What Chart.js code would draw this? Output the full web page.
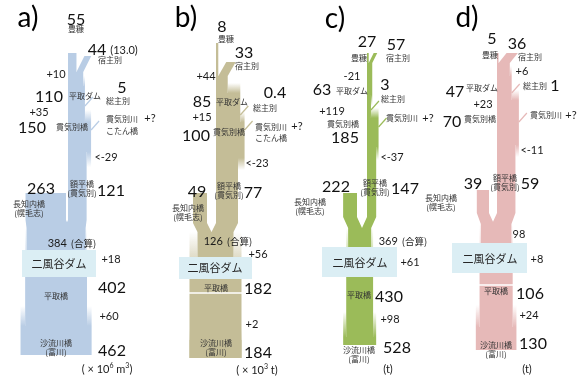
<!DOCTYPE html>
<html>
<head>
<meta charset="utf-8">
<script src="https://cdn.jsdelivr.net/npm/chart.js@4.4.0/dist/chart.umd.min.js"></script>
<style>
  html, body { margin: 0; padding: 0; background: #fff; overflow: hidden; }
  canvas { display: block; }
</style>
</head>
<body>
<canvas id="c" width="585" height="389"></canvas>
<script>
// ---- annual loads along the Saru / Nukabira river system (a: water, b: SS, c, d: nutrients) ----
const panelLetters   = ['a)', 'b)', 'c)', 'd)'];
const toyonuka       = [55, 8, 27, 5];          // 豊糠
const shukushubetsu  = [44, 33, 57, 36];        // 宿主別
const shukuNote      = ['(13.0)', '', '', ''];
const biratoriDam    = [110, 85, 63, 47];       // 平取ダム
const soshubetsu     = [5, 0.4, 3, 1];          // 総主別
const nukibetsuBr    = [150, 100, 185, 70];     // 貫気別橋
const nukabiraBr     = [121, 77, 147, 59];      // 額平橋（貫気別）
const osachinaiBr    = [263, 49, 222, 39];      // 長知内橋（幌毛志）
const combined       = [384, 126, 369, 98];     // 合算
const biratoriBr     = [402, 182, 430, 106];    // 平取橋
const saruBr         = [462, 184, 528, 130];    // 沙流川橋（富川）
const damInflow      = [10, 44, -21, 6];
const nukibetsuIn    = [35, 15, 119, 23];
const nukabiraLoss   = [-29, -23, -37, -11];
const nibutaniGain   = [18, 56, 61, 8];
const lowerGain      = [60, 2, 98, 24];
const combinedTag    = ['(合算)', '(合算)', '(合算)', ''];
const unitParts = [
  [['( × 10', 0], ['6', 1], [' m', 0], ['3', 1], [')', 0]],
  [['( × 10', 0], ['3', 1], [' t)', 0]],
  [['(t)', 0]],
  [['(t)', 0]]
];

// ---- drawing layout (page units) ----
const colors = ['#b9cde5', '#c4bd97', '#9bbb59', '#e6b9b8'];
const boxColor = '#dbeef4';
const geo = [
  { L: 68,  k: 1 / 6.5, gap: 2,  ySrc: 53, tribTop: 56, tribDx: 8, yJoin: 72, z1: [76, 86],  z2: [110, 122], z3: [152, 167], soY: 106, nkY: 130, brTop: 193, brBot: 220, apex: 228, box: [22, 250, 74, 27],  hiraLine: null, z4: [306, 326], bottom: 355 },
  { L: 216, k: 1 / 3.5, gap: 9,  ySrc: 43, tribTop: 62, tribDx: 8, yJoin: 76, z1: [83, 93],  z2: [112, 122], z3: [158, 170], soY: 115, nkY: 130, brTop: 193, brBot: 223, apex: 232, box: [179, 257, 73, 22], hiraLine: 293,  z4: [328, 340], bottom: 358 },
  { L: 367, k: 1 / 16,  gap: 10, ySrc: 53, tribTop: 53, tribDx: 5, yJoin: 63, z1: [95, 106], z2: [108, 118], z3: [147, 160], soY: 110, nkY: 127, brTop: 193, brBot: 217, apex: 228, box: [322, 247, 75, 30], hiraLine: null, z4: [312, 337], bottom: 345 },
  { L: 497, k: 1 / 3.2, gap: 8,  ySrc: 53, tribTop: 53, tribDx: 8, yJoin: 63, z1: [66, 76],  z2: [90, 100],  z3: [145, 157], soY: 93,  nkY: 122, brTop: 190, brBot: 213, apex: 224, box: [452, 243, 75, 30], hiraLine: 285,  z4: [305, 327], bottom: 350 }
];

// label anchors (centre x, centre y) per panel
const pos = {
  letter:   [[28, 17], [186, 17], [335, 18], [467, 17]],
  srcNum:   [[76, 19], [222, 26], [367, 41], [492, 38]],
  srcName:  [[76, 29], [226, 39], [359, 58], [490, 55]],
  tribNum:  [[97, 49], [244, 52], [396, 44], [517, 43]],
  tribNote: [[124, 50], null, null, null],
  tribName: [[110, 60], [247, 66], [398, 58], [530, 57]],
  gain1:    [[56, 74], [206, 76], [352, 76], [522, 71]],
  damNum:   [[49, 96], [202, 101], [322, 89], [455, 91]],
  damName:  [[85, 96], [232, 102], [352, 91], [482, 88]],
  soNum:    [[122, 87], [275, 92], [385, 84], [555, 85]],
  soName:   [[118, 101], [265, 108], [393, 99], [535, 86]],
  gain2:    [[39, 112], [202, 117], [332, 111], [483, 104]],
  nukiNum:  [[32, 127], [196, 135], [345, 137], [452, 121]],
  nukiName: [[72, 127], [229, 132], [343, 124], [480, 119]],
  kawa:     [[122, 119], [271, 127], [402, 118], [546, 115]],
  kotan:    [[122, 131], [271, 138], null, null],
  plusQ:    [[150, 118], [297, 126], [428, 118], [571, 115]],
  loss:     [[106, 157], [257, 163], [392, 157], [532, 150]],
  osaNum:   [[41, 188], [197, 191], [336, 186], [473, 183]],
  nukaName: [[82, 184], [229, 186], [375, 183], [505, 178]],
  nukaNum:  [[111, 190], [253, 192], [405, 188], [530, 183]],
  osaName:  [[29, 204], [188, 208], [310, 202], [441, 198]],
  comb:     [[72, 243], [228, 241], [403, 241], [519, 234]],
  dam:      [[59, 264], [215, 268], [360, 263], [490, 259]],
  damGain:  [[111, 259], [258, 254], [410, 262], [537, 259]],
  hiraNum:  [[112, 287], [258, 288], [389, 296], [530, 293]],
  hiraName: [[56, 296], [216, 288], [359, 295], [496, 291]],
  lowGain:  [[109, 316], [252, 324], [390, 319], [529, 315]],
  saruName: [[56, 343], [216, 343], [359, 350], [496, 345]],
  saruNum:  [[112, 350], [258, 352], [397, 347], [533, 343]],
  unit:     [[107, 369], [257, 370], [388, 369], [527, 369]]
};

const NUM = 'Lato, "Open Sans", sans-serif';
const JP = '"Noto Sans CJK JP", sans-serif';

function rgba(hex, a) {
  const n = parseInt(hex.slice(1), 16);
  return 'rgba(' + ((n >> 16) & 255) + ',' + ((n >> 8) & 255) + ',' + (n & 255) + ',' + a + ')';
}
const signed = v => (v > 0 ? '+' : '') + v;

const riverPlugin = {
  id: 'riverFlows',
  afterDraw(chart) {
    const ctx = chart.ctx;
    const sx = chart.scales.x, sy = chart.scales.y;
    const X = v => sx.getPixelForValue(v);
    const Y = v => sy.getPixelForValue(v);

    const rect = (x0, x1, y0, y1, fill) => {
      ctx.fillStyle = fill;
      ctx.fillRect(X(x0), Y(y0), X(x1) - X(x0), Y(y1) - Y(y0));
    };
    const poly = (pts, fill) => {
      ctx.beginPath();
      pts.forEach((p, j) => j ? ctx.lineTo(X(p[0]), Y(p[1])) : ctx.moveTo(X(p[0]), Y(p[1])));
      ctx.closePath();
      ctx.fillStyle = fill;
      ctx.fill();
    };
    const fade = (col, y0, y1, a0, a1) => {
      const g = ctx.createLinearGradient(0, Y(y0), 0, Y(y1));
      g.addColorStop(0, rgba(col, a0));
      g.addColorStop(1, rgba(col, a1));
      return g;
    };
    // width change anchored on the left bank
    const zoneL = (x0, wa, wb, y0, y1, col) => {
      const lo = Math.min(wa, wb), hi = Math.max(wa, wb);
      rect(x0, x0 + lo, y0, y1, col);
      rect(x0 + lo, x0 + hi, y0, y1, wb > wa ? fade(col, y0, y1, 0, 1) : fade(col, y0, y1, 1, 0));
    };
    // width change about the channel centre
    const zoneC = (cx, wa, wb, y0, y1, col) => {
      const lo = Math.min(wa, wb) / 2, hi = Math.max(wa, wb) / 2;
      rect(cx - lo, cx + lo, y0, y1, col);
      const g = wb > wa ? fade(col, y0, y1, 0, 1) : fade(col, y0, y1, 1, 0);
      rect(cx - hi, cx - lo, y0, y1, g);
      rect(cx + lo, cx + hi, y0, y1, g);
    };
    const streak = (x, y, col) => {
      ctx.strokeStyle = col;
      ctx.lineWidth = 1.2;
      ctx.beginPath();
      ctx.moveTo(X(x), Y(y));
      ctx.lineTo(X(x + 8), Y(y - 9));
      ctx.stroke();
    };

    // ---- channels ----
    geo.forEach((p, i) => {
      const col = colors[i], k = p.k, L = p.L;
      const w0 = toyonuka[i] * k, w1 = w0 + shukushubetsu[i] * k;
      const w2 = biratoriDam[i] * k, w3 = nukibetsuBr[i] * k, w4 = nukabiraBr[i] * k;
      const wN = osachinaiBr[i] * k, wC = combined[i] * k, wH = biratoriBr[i] * k, wS = saruBr[i] * k;

      // upper Nukabira
      rect(L, L + w0, p.ySrc, p.yJoin, col);
      poly([[L + w0 + p.tribDx, p.tribTop], [L + w1 + p.tribDx, p.tribTop], [L + w1, p.yJoin], [L + w0, p.yJoin]], col);
      rect(L, L + w1, p.yJoin, p.z1[0], col);
      zoneL(L, w1, w2, p.z1[0], p.z1[1], col);
      rect(L, L + w2, p.z1[1], p.z2[0], col);
      zoneL(L, w2, w3, p.z2[0], p.z2[1], col);
      rect(L, L + w3, p.z2[1], p.z3[0], col);
      zoneL(L, w3, w4, p.z3[0], p.z3[1], col);
      rect(L, L + w4, p.z3[1], p.brBot, col);
      streak(L + w2, p.soY, col);
      streak(L + w3, p.nkY, col);

      // Saru main stem at Osachinai, confluence
      const nR = L - p.gap, nL = nR - wN;
      rect(nL, nR, p.brTop, p.brBot, col);
      const cx = (nL + L + w4) / 2;
      const notch = Math.min(p.brBot + p.gap * 1.1, p.apex);
      poly([[nL, p.brBot], [nR, p.brBot], [(nR + L) / 2, notch], [L, p.brBot], [L + w4, p.brBot],
            [cx + wC / 2, p.apex], [cx - wC / 2, p.apex]], col);
      const boxBot = p.box[1] + p.box[3];
      zoneC(cx, wC, wH, p.apex, boxBot, col);
      rect(cx - wH / 2, cx + wH / 2, boxBot, p.z4[0], col);
      zoneC(cx, wH, wS, p.z4[0], p.z4[1], col);
      rect(cx - wS / 2, cx + wS / 2, p.z4[1], p.bottom, col);
      if (p.hiraLine !== null) {
        ctx.strokeStyle = '#ffffff';
        ctx.lineWidth = 1.5;
        ctx.beginPath();
        ctx.moveTo(X(cx - wH / 2 - 1), Y(p.hiraLine));
        ctx.lineTo(X(cx + wH / 2 + 1), Y(p.hiraLine));
        ctx.stroke();
      }
      // Nibutani dam
      rect(p.box[0], p.box[0] + p.box[2], p.box[1], boxBot, boxColor);
    });

    // ---- text ----
    const put = (s, at, size, font, color, align) => {
      if (!at || s === '') return;
      ctx.font = size + 'px ' + font;
      ctx.fillStyle = color || '#1a1a1a';
      ctx.textAlign = align || 'center';
      ctx.textBaseline = 'alphabetic';
      const off = font === JP ? 0.37 : 0.36;
      ctx.fillText(s, X(at[0]), Y(at[1]) + size * off);
    };
    const big = (s, at) => put(String(s), at, 16, NUM, '#111');
    const small = (s, at) => put(String(s), at, 11, NUM, '#1a1a1a');
    const jp = (s, at) => put(s, at, 8, JP, '#333');
    const two = (a, b, at) => {
      if (!at) return;
      jp(a, [at[0], at[1]]);
      if (b) jp(b, [at[0], at[1] + 9.5]);
    };

    for (let i = 0; i < 4; i++) {
      put(panelLetters[i], pos.letter[i], 28, NUM, '#000');
      big(toyonuka[i], pos.srcNum[i]);
      jp('豊糠', pos.srcName[i]);
      big(shukushubetsu[i], pos.tribNum[i]);
      small(shukuNote[i], pos.tribNote[i]);
      jp('宿主別', pos.tribName[i]);
      small(signed(damInflow[i]), pos.gain1[i]);
      big(biratoriDam[i], pos.damNum[i]);
      jp('平取ダム', pos.damName[i]);
      big(soshubetsu[i], pos.soNum[i]);
      jp('総主別', pos.soName[i]);
      small(signed(nukibetsuIn[i]), pos.gain2[i]);
      big(nukibetsuBr[i], pos.nukiNum[i]);
      jp('貫気別橋', pos.nukiName[i]);
      jp('貫気別川', pos.kawa[i]);
      jp('こたん橋', pos.kotan[i]);
      small('+?', pos.plusQ[i]);
      small('<' + nukabiraLoss[i], pos.loss[i]);
      big(osachinaiBr[i], pos.osaNum[i]);
      two('額平橋', '(貫気別)', pos.nukaName[i]);
      big(nukabiraBr[i], pos.nukaNum[i]);
      two('長知内橋', '(幌毛志)', pos.osaName[i]);

      // confluence total
      {
        const at = pos.comb[i];
        ctx.font = '11px ' + NUM;
        const n = String(combined[i]);
        const wn = ctx.measureText(n).width;
        ctx.font = '9.5px ' + JP;
        const tag = combinedTag[i];
        const wt = tag ? ctx.measureText(tag).width + 4 : 0;
        const x0 = at[0] - (wn + wt) / 2;
        put(n, [x0, at[1]], 11, NUM, '#1a1a1a', 'left');
        if (tag) put(tag, [x0 + wn + 4, at[1]], 9.5, JP, '#1a1a1a', 'left');
      }

      put('二風谷ダム', pos.dam[i], 11, JP, '#262626');
      small(signed(nibutaniGain[i]), pos.damGain[i]);
      big(biratoriBr[i], pos.hiraNum[i]);
      jp('平取橋', pos.hiraName[i]);
      small(signed(lowerGain[i]), pos.lowGain[i]);
      two('沙流川橋', '(富川)', pos.saruName[i]);
      big(saruBr[i], pos.saruNum[i]);

      // unit with superscripts
      {
        const at = pos.unit[i];
        const parts = unitParts[i];
        let total = 0;
        parts.forEach(([s, sup]) => { ctx.font = (sup ? 7 : 11) + 'px ' + NUM; total += ctx.measureText(s).width; });
        let x = at[0] - total / 2;
        parts.forEach(([s, sup]) => {
          const size = sup ? 7 : 11;
          ctx.font = size + 'px ' + NUM;
          put(s, [x, sup ? at[1] - 4 : at[1]], size, NUM, '#1a1a1a', 'left');
          x += ctx.measureText(s).width;
        });
      }
    }
  }
};

new Chart(document.getElementById('c').getContext('2d'), {
  type: 'scatter',
  data: { datasets: [] },
  options: {
    responsive: false,
    animation: false,
    layout: { padding: 0 },
    plugins: { legend: { display: false }, tooltip: { enabled: false } },
    scales: {
      x: { type: 'linear', min: 0, max: 585, display: false },
      y: { type: 'linear', min: 0, max: 389, reverse: true, display: false }
    }
  },
  plugins: [riverPlugin]
});
</script>
</body>
</html>
